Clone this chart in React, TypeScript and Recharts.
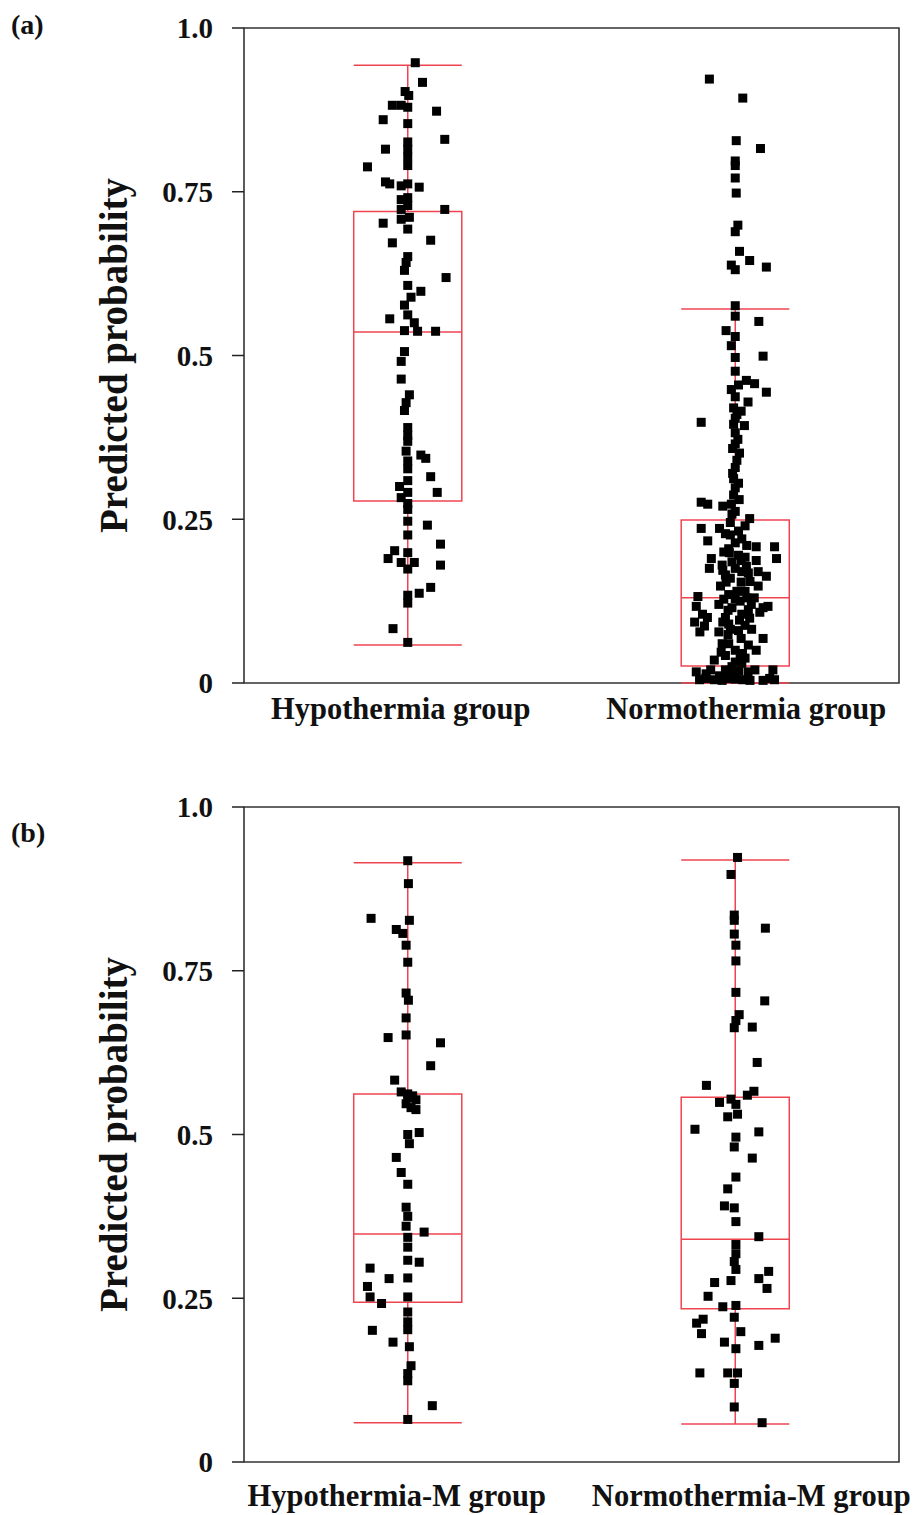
import { ComposedChart, XAxis, YAxis, Scatter, ReferenceArea, ReferenceLine } from "recharts";

// y axis ticks
const Y_TICKS = [0, 0.25, 0.5, 0.75, 1];
const Y_TICK_LABELS = ["0", "0.25", "0.5", "0.75", "1.0"];

// categories (positions 1 and 2 on a numeric x axis)
const CATEGORIES_A = ["Hypothermia group", "Normothermia group"];
const CATEGORIES_B = ["Hypothermia-M group", "Normothermia-M group"];

// box summaries: low whisker, Q1, median, Q3, high whisker
const BOXES_A = [
  { low: 0.058, q1: 0.278, median: 0.536, q3: 0.72, high: 0.943 },
  { low: 0.0, q1: 0.026, median: 0.13, q3: 0.249, high: 0.571 },
];
const BOXES_B = [
  { low: 0.06, q1: 0.244, median: 0.348, q3: 0.562, high: 0.915 },
  { low: 0.058, q1: 0.234, median: 0.34, q3: 0.557, high: 0.919 },
];

// points: [horizontal jitter, predicted probability]
const HYPO_A: [number, number][] = [
  [0.023, 0.947], [0.045, 0.917], [-0.008, 0.903], [0.003, 0.897], [-0.047, 0.882], [-0.02, 0.882],
  [0, 0.879], [0.088, 0.873], [-0.075, 0.86], [0, 0.854], [0.113, 0.83], [0, 0.826], [0, 0.815],
  [-0.068, 0.815], [0, 0.803], [0, 0.79], [-0.123, 0.788], [-0.068, 0.765], [-0.055, 0.762],
  [-0.02, 0.759], [0, 0.762], [0.035, 0.757], [-0.02, 0.738], [0, 0.741], [0, 0.729], [-0.02, 0.723],
  [0.113, 0.723], [-0.02, 0.708], [0.005, 0.711], [-0.075, 0.702], [0, 0.693], [0.07, 0.676],
  [-0.047, 0.672], [0, 0.651], [-0.005, 0.642], [-0.01, 0.63], [0.117, 0.619], [0, 0.607],
  [0.04, 0.598], [0.01, 0.589], [-0.01, 0.577], [-0.055, 0.556], [0, 0.562], [0.02, 0.55],
  [-0.01, 0.538], [0.03, 0.537], [0.085, 0.537], [-0.01, 0.506], [-0.02, 0.491], [-0.02, 0.464],
  [0.005, 0.44], [-0.005, 0.428], [-0.01, 0.416], [0, 0.39], [0, 0.378], [0, 0.369], [-0.005, 0.354],
  [0.04, 0.348], [0.055, 0.343], [0, 0.339], [0, 0.327], [0.07, 0.315], [0, 0.309], [-0.025, 0.3],
  [0, 0.291], [0.09, 0.291], [-0.02, 0.283], [0, 0.274], [0, 0.265], [0, 0.247], [0.06, 0.241],
  [0, 0.226], [0.1, 0.212], [-0.04, 0.202], [0, 0.199], [-0.06, 0.19], [-0.02, 0.184], [0.02, 0.184],
  [0.1, 0.18], [0, 0.174], [0.07, 0.146], [0.035, 0.137], [0, 0.134], [0, 0.122], [-0.045, 0.083],
  [0, 0.062],
];

const NORMO_A: [number, number][] = [
  [-0.079, 0.922], [0.023, 0.893], [0.003, 0.828], [0.077, 0.816], [0, 0.797], [0, 0.79], [0, 0.771],
  [0.003, 0.748], [0.008, 0.699], [0, 0.689], [0.013, 0.659], [0.044, 0.645], [0.095, 0.635],
  [-0.012, 0.638], [0, 0.631], [0, 0.576], [0, 0.56], [0.072, 0.552], [-0.028, 0.538], [0, 0.529],
  [-0.012, 0.515], [0.085, 0.499], [0, 0.497], [0, 0.476], [0.034, 0.462], [0.059, 0.457],
  [0.095, 0.444], [-0.012, 0.448], [0, 0.437], [0.039, 0.429], [0.018, 0.415], [-0.104, 0.398],
  [0, 0.404], [0.028, 0.393], [0, 0.382], [0, 0.365], [0.013, 0.351], [0, 0.329], [-0.005, 0.312],
  [0, 0.298], [-0.104, 0.276], [-0.084, 0.273], [-0.038, 0.27], [-0.012, 0.273], [0, 0.262],
  [0.044, 0.251], [-0.104, 0.236], [-0.048, 0.236], [-0.084, 0.217], [-0.015, 0.226], [0, 0.214],
  [0.12, 0.208], [0.064, 0.208], [-0.018, 0.199], [-0.073, 0.19], [0.018, 0.187], [0.064, 0.187],
  [0.126, 0.19], [-0.079, 0.175], [-0.038, 0.172], [0, 0.175], [0.034, 0.178], [0.095, 0.163],
  [-0.028, 0.154], [0.018, 0.154], [0.07, 0.148], [-0.114, 0.132], [0, 0.129], [0.049, 0.12],
  [0.1, 0.117], [-0.119, 0.117], [-0.022, 0.111], [0.075, 0.108], [-0.124, 0.093], [-0.094, 0.087],
  [-0.038, 0.093], [0.013, 0.096], [0.044, 0.099], [-0.022, 0.074], [0.018, 0.068], [0.085, 0.068],
  [0.064, 0.05], [0, 0.05], [-0.043, 0.047], [-0.064, 0.035], [0, 0.032], [-0.119, 0.017],
  [-0.089, 0.014], [-0.048, 0.011], [-0.008, 0.014], [0.039, 0.017], [0.115, 0.02], [-0.109, 0.005],
  [-0.064, 0.005], [-0.022, 0.007], [0.023, 0.005], [0.105, 0.007], [0.12, 0.005],
  [-0.015, 0.245], [0.01, 0.232], [0.02, 0.22], [-0.02, 0.205], [0.01, 0.195], [-0.01, 0.185],
  [0.02, 0.17], [-0.015, 0.16], [0.005, 0.14], [-0.02, 0.135], [0.015, 0.125], [-0.01, 0.115],
  [0.02, 0.105], [-0.015, 0.082], [0.01, 0.08], [-0.02, 0.06], [0.015, 0.04], [-0.01, 0.025],
  [0.02, 0.03], [-0.03, 0.02],
  // dense centre column and clumps
  [0.01, 0.455], [-0.005, 0.42], [0.005, 0.41], [-0.005, 0.395], [0.008, 0.372], [-0.008, 0.358],
  [0.005, 0.34], [-0.008, 0.32], [0.01, 0.305], [-0.005, 0.287], [0.012, 0.28], [-0.01, 0.258],
  [0.03, 0.24], [-0.03, 0.228], [0.035, 0.21], [-0.035, 0.2], [0.03, 0.192], [-0.04, 0.18],
  [0.04, 0.168], [-0.03, 0.165], [0.045, 0.155], [-0.045, 0.148], [0.03, 0.14], [-0.035, 0.128],
  [0.035, 0.13], [-0.05, 0.12], [0.04, 0.112], [-0.03, 0.1], [0.03, 0.088], [-0.05, 0.078],
  [0.05, 0.082], [-0.04, 0.06], [0.04, 0.058], [-0.03, 0.042], [0.03, 0.038], [-0.1, 0.105],
  [-0.108, 0.078], [-0.085, 0.1], [0.07, 0.17], [0.058, 0.13], [0.085, 0.115], [-0.09, 0.007],
  [-0.04, 0.004], [0.0, 0.006], [0.045, 0.004], [0.085, 0.004], [0.06, 0.02], [-0.075, 0.02],
  [0.01, 0.018], [-0.02, 0.09], [0.022, 0.045],
];

const HYPO_B: [number, number][] = [
  [0, 0.918], [0.002, 0.883], [-0.112, 0.83], [0.005, 0.827], [-0.035, 0.813], [-0.015, 0.807],
  [-0.005, 0.789], [0, 0.763], [-0.005, 0.716], [0.002, 0.705], [-0.005, 0.678], [-0.06, 0.648],
  [-0.005, 0.652], [0.1, 0.64], [0.07, 0.605], [-0.04, 0.583], [-0.02, 0.565], [0, 0.562],
  [0.015, 0.559], [0.025, 0.553], [-0.005, 0.547], [0.01, 0.541], [0.025, 0.538], [0, 0.556],
  [0.035, 0.503], [0, 0.5], [0.005, 0.486], [-0.035, 0.465], [-0.02, 0.442], [0, 0.424],
  [-0.005, 0.389], [0, 0.375], [-0.005, 0.36], [0.05, 0.351], [0, 0.343], [0, 0.328], [0.035, 0.305],
  [0, 0.308], [-0.115, 0.296], [-0.057, 0.28], [0, 0.281], [-0.123, 0.268], [-0.115, 0.252],
  [-0.08, 0.242], [0, 0.252], [0, 0.229], [0, 0.214], [-0.108, 0.201], [0, 0.202], [-0.045, 0.183],
  [0.005, 0.176], [0.01, 0.147], [0, 0.135], [0, 0.124], [0.075, 0.086], [0, 0.065],
];

const NORMO_B: [number, number][] = [
  [0.007, 0.923], [-0.013, 0.897], [-0.003, 0.835], [-0.003, 0.827], [0.092, 0.815], [-0.003, 0.806],
  [0.002, 0.789], [0.002, 0.765], [0.002, 0.717], [0.09, 0.704], [0.012, 0.683], [0.002, 0.674],
  [-0.003, 0.663], [0.052, 0.664], [0.067, 0.61], [-0.088, 0.575], [0.057, 0.566], [0.037, 0.56],
  [-0.013, 0.554], [-0.048, 0.549], [0.002, 0.546], [0.007, 0.531], [-0.023, 0.527], [-0.123, 0.508],
  [0.072, 0.504], [0.002, 0.496], [-0.003, 0.481], [0.052, 0.464], [0.002, 0.435], [-0.023, 0.417],
  [-0.033, 0.391], [-0.003, 0.388], [0.002, 0.367], [0.072, 0.344], [0.002, 0.332], [0.002, 0.318],
  [-0.003, 0.306], [0.002, 0.294], [0.102, 0.291], [0.072, 0.28], [-0.013, 0.277], [0.097, 0.265],
  [-0.063, 0.274], [-0.083, 0.253], [-0.038, 0.237], [0.002, 0.239], [-0.003, 0.221], [-0.098, 0.218],
  [-0.118, 0.212], [0.017, 0.199], [-0.103, 0.196], [0.122, 0.189], [-0.033, 0.183], [0.072, 0.178],
  [0.002, 0.173], [-0.108, 0.136], [-0.023, 0.136], [0.007, 0.136], [-0.003, 0.12], [-0.003, 0.084],
  [0.082, 0.06],
];

const RED = "#ef4450";
const BOX_HALF = 0.165;
const FONT = '"Liberation Serif", "Times New Roman", serif';

function Square(props: any) {
  const { cx, cy } = props;
  if (cx == null || cy == null) return null;
  return <rect x={cx - 4.5} y={cy - 4.5} width={9} height={9} fill="#000" />;
}

interface PanelProps {
  tag: string;
  tagY: number;
  categories: string[];
  labelShift: number[];
  boxes: typeof BOXES_A;
  groups: [number, number][][];
  height: number;
  marginTop: number;
  marginBottom: number;
  xTickMargin: number;
}

function Panel({ tag, tagY, categories, labelShift, boxes, groups, height, marginTop, marginBottom, xTickMargin }: PanelProps) {
  const plotTop = marginTop;
  const plotH = 655;
  const renderXTick = (p: any) => (
    <text
      x={p.x + labelShift[p.index]}
      y={p.y}
      dy="0.71em"
      textAnchor="middle"
      fontFamily={FONT}
      fontWeight="bold"
      fontSize={30.5}
      fill="#111"
    >
      {p.payload.value === 1 ? categories[0] : categories[1]}
    </text>
  );
  return (
    <div style={{ width: 919, height }}>
      <ComposedChart
        width={919}
        height={height}
        margin={{ top: marginTop, right: 20, bottom: marginBottom, left: 144 }}
      >
        <XAxis
          type="number"
          dataKey="x"
          domain={[0.5, 2.5]}
          ticks={[1, 2]}
          axisLine={false}
          tickLine={false}
          height={50}
          tickMargin={xTickMargin}
          tick={renderXTick}
          allowDataOverflow
        />
        <YAxis
          type="number"
          dataKey="y"
          domain={[0, 1]}
          ticks={Y_TICKS}
          tickFormatter={(v: number) => Y_TICK_LABELS[Y_TICKS.indexOf(v)]}
          width={100}
          axisLine={false}
          tickSize={12}
          tickLine={{ stroke: "#222", strokeWidth: 1.5 }}
          tickMargin={19}
          tick={{ fontFamily: FONT, fontWeight: "bold", fontSize: 29, fill: "#111" }}
        />
        {boxes.map((b, i) => {
          const c = i + 1;
          return [
            <ReferenceLine key={`hc${i}`} segment={[{ x: c - BOX_HALF, y: b.high }, { x: c + BOX_HALF, y: b.high }]} stroke={RED} strokeWidth={1.5} />,
            <ReferenceLine key={`hw${i}`} segment={[{ x: c, y: b.q3 }, { x: c, y: b.high }]} stroke={RED} strokeWidth={1.5} />,
            <ReferenceArea key={`bx${i}`} x1={c - BOX_HALF} x2={c + BOX_HALF} y1={b.q1} y2={b.q3} fill="none" fillOpacity={0} stroke={RED} strokeWidth={1.5} />,
            <ReferenceLine key={`md${i}`} segment={[{ x: c - BOX_HALF, y: b.median }, { x: c + BOX_HALF, y: b.median }]} stroke={RED} strokeWidth={1.5} />,
            <ReferenceLine key={`lw${i}`} segment={[{ x: c, y: b.low }, { x: c, y: b.q1 }]} stroke={RED} strokeWidth={1.5} />,
            <ReferenceLine key={`lc${i}`} segment={[{ x: c - BOX_HALF, y: b.low }, { x: c + BOX_HALF, y: b.low }]} stroke={RED} strokeWidth={1.5} />,
          ];
        })}
        <ReferenceArea x1={0.5} x2={2.5} y1={0} y2={1} fill="none" fillOpacity={0} stroke="#333" strokeWidth={1.6} ifOverflow="visible" />
        {groups.map((pts, i) => (
          <Scatter
            key={i}
            data={pts.map(([j, v]) => ({ x: i + 1 + j, y: v }))}
            shape={Square}
            isAnimationActive={false}
          />
        ))}
        <text x={11} y={tagY} fontFamily={FONT} fontWeight="bold" fontSize={28} fill="#111">
          {tag}
        </text>
        <text
          x={127}
          y={plotTop + plotH / 2}
          transform={`rotate(-90, 127, ${plotTop + plotH / 2})`}
          textAnchor="middle"
          fontFamily={FONT}
          fontWeight="bold"
          fontSize={39}
          fill="#111"
        >
          Predicted probability
        </text>
      </ComposedChart>
    </div>
  );
}

export default function App() {
  return (
    <div style={{ position: "absolute", left: 0, top: 0, width: 919, height: 1515, background: "#fff", overflow: "hidden" }}>
      <Panel
        tag="(a)"
        tagY={34}
        categories={CATEGORIES_A}
        labelShift={[-7, 11]}
        boxes={BOXES_A}
        groups={[HYPO_A, NORMO_A]}
        height={770}
        marginTop={28}
        marginBottom={37}
        xTickMargin={8}
      />
      <Panel
        tag="(b)"
        tagY={72}
        categories={CATEGORIES_B}
        labelShift={[-11, 16]}
        boxes={BOXES_B}
        groups={[HYPO_B, NORMO_B]}
        height={745}
        marginTop={37}
        marginBottom={3}
        xTickMargin={16}
      />
    </div>
  );
}
